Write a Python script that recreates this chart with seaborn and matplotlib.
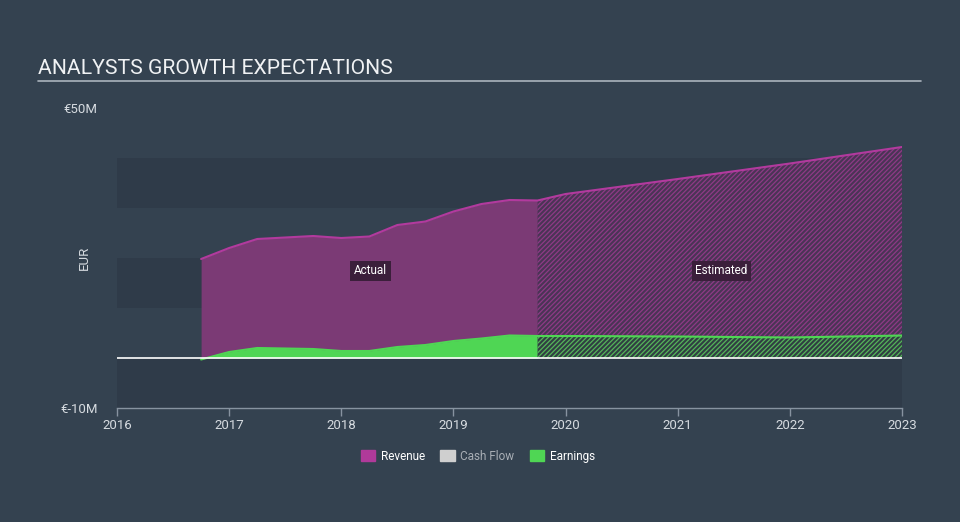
import numpy as np
import pandas as pd
import matplotlib
matplotlib.use("Agg")
import matplotlib.pyplot as plt
import matplotlib.patches as mpatches
import seaborn as sns

# ---- data (EUR millions) ----
actual_t = [2016.75, 2017.0, 2017.25, 2017.5, 2017.75, 2018.0, 2018.25,
            2018.5, 2018.75, 2019.0, 2019.25, 2019.5, 2019.75]
actual_revenue = [19.8, 22.0, 23.8, 24.1, 24.4, 24.0, 24.3,
                  26.6, 27.3, 29.3, 30.8, 31.6, 31.5]
actual_earnings = [-0.3, 1.2, 2.0, 1.9, 1.8, 1.4, 1.4,
                   2.2, 2.6, 3.4, 3.9, 4.5, 4.4]

est_t = [2019.75, 2020.0, 2021.0, 2022.0, 2023.0]
est_revenue = [31.5, 32.8, 35.8, 38.9, 42.2]
est_earnings = [4.4, 4.4, 4.3, 4.1, 4.5]

x_ticks = [2016, 2017, 2018, 2019, 2020, 2021, 2022, 2023]
y_ticks = [-10, 50]
y_tick_labels = ["€-10M", "€50M"]
legend_labels = ["Revenue", "Cash Flow", "Earnings"]

# ---- style ----
BG = "#344250"
BAND = "#2f3b49"
REV_LINE = "#b23a9e"
REV_FILL = "#7b3a75"
EARN = "#4fd654"
TXT = "#d6dbe0"

sns.set_theme(style="dark")
plt.rcParams["font.family"] = ["Roboto", "DejaVu Sans"]
plt.rcParams["hatch.linewidth"] = 0.9

fig = plt.figure(figsize=(9.6, 5.22), dpi=100)
fig.patch.set_facecolor(BG)
ax = fig.add_axes([117 / 960, (522 - 408) / 522, 785 / 960, 300 / 522])
ax.set_facecolor("none")

df_a = pd.DataFrame({"t": actual_t, "Revenue": actual_revenue, "Earnings": actual_earnings})
df_e = pd.DataFrame({"t": est_t, "Revenue": est_revenue, "Earnings": est_earnings})
df_all = pd.concat([df_a, df_e.iloc[1:]], ignore_index=True)

# horizontal bands
for lo in (-10, 10, 30):
    ax.axhspan(lo, lo + 10, color=BAND, zorder=0, lw=0)

# actual fills
ax.fill_between(df_a["t"], 0, df_a["Revenue"], color=REV_FILL, lw=0, zorder=1)
ax.fill_between(df_a["t"], 0, df_a["Earnings"], where=np.array(actual_earnings) >= 0,
                interpolate=True, color=EARN, lw=0, zorder=2)
ax.fill_between(df_a["t"], 0, df_a["Earnings"], where=np.array(actual_earnings) < 0,
                interpolate=True, color="#e8443a", lw=0, zorder=2)

# estimated fills (hatched)
ax.fill_between(df_e["t"], 0, df_e["Revenue"], facecolor="#4a3455", edgecolor="#8e3a86",
                hatch="///////", lw=0, zorder=1)
ax.fill_between(df_e["t"], 0, df_e["Earnings"], facecolor="#303e42", edgecolor="#55b559",
                hatch="///////", lw=0, zorder=2)

# lines via seaborn
sns.lineplot(data=df_all, x="t", y="Revenue", ax=ax, color=REV_LINE, lw=1.5, zorder=3)
sns.lineplot(data=df_all, x="t", y="Earnings", ax=ax, color=EARN, lw=1.5, zorder=3)

# zero line
ax.axhline(0, color="white", lw=1.2, zorder=4)

ax.set_xlim(2016, 2023)
ax.set_ylim(-10, 50)
ax.set_xticks(x_ticks)
ax.set_xticklabels([str(v) for v in x_ticks], color=TXT, fontsize=9.5)
ax.set_yticks(y_ticks)
ax.set_yticklabels(y_tick_labels, color=TXT, fontsize=9.5)
ax.tick_params(axis="y", length=0, pad=14)
ax.tick_params(axis="x", length=6, color="#8793a0", width=1, pad=2, bottom=True)
ax.set_xlabel("")
ax.set_ylabel("EUR", color=TXT, fontsize=9.5)
ax.yaxis.set_label_coords(-0.033, 0.5)
ax.grid(False)
for s in ("top", "right", "left"):
    ax.spines[s].set_visible(False)
ax.spines["bottom"].set_color("#8793a0")
ax.spines["bottom"].set_linewidth(1)

# Actual / Estimated labels
box = dict(boxstyle="square,pad=0.3", fc="#3b1f3b", ec="none")
ax.text(2018.26, 17.4, "Actual", color="white", fontsize=8.5, ha="center", va="center", bbox=box, zorder=6)
ax.text(2021.39, 17.4, "Estimated", color="white", fontsize=8.5, ha="center", va="center", bbox=box, zorder=6)

# title
fig.text(38 / 960, 1 - 68 / 522, "ANALYSTS GROWTH EXPECTATIONS", color="#f0f2f4",
         fontsize=15.2, ha="left", va="center")
fig.add_artist(plt.Line2D([38 / 960, 921 / 960], [1 - 81 / 522, 1 - 81 / 522],
                          color="#aab3bd", lw=1.2))

# legend
handles = [mpatches.Patch(color="#b03a9a"), mpatches.Patch(color="#cfcfcf"), mpatches.Patch(color=EARN)]
leg = fig.legend(handles, legend_labels, loc="center", ncol=3, frameon=False,
                 bbox_to_anchor=(478 / 960, 1 - 456 / 522), fontsize=8.5,
                 handlelength=1.2, handleheight=1.0, columnspacing=1.3, handletextpad=0.5)
for t, c in zip(leg.get_texts(), ["white", "#a9afb6", "white"]):
    t.set_color(c)

fig.savefig("out.png", dpi=100, facecolor=BG)
